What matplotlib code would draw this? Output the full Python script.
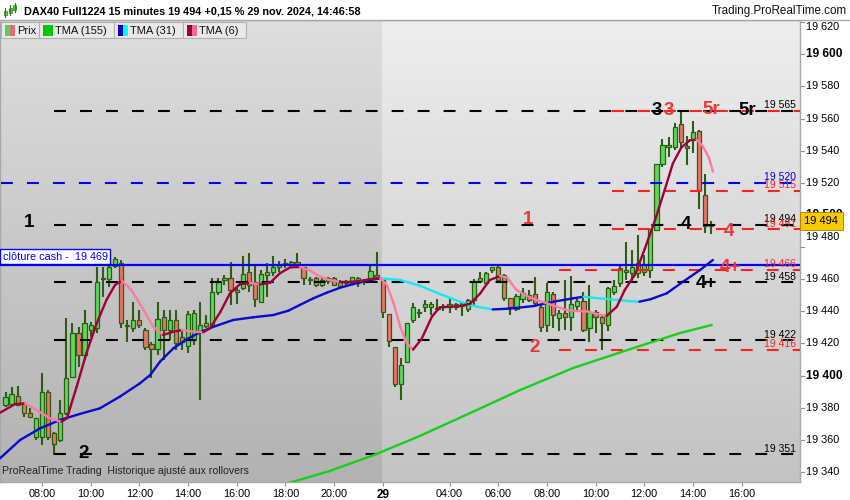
import numpy as np
import matplotlib.pyplot as plt
from matplotlib.patches import Rectangle
from matplotlib.colors import LinearSegmentedColormap
from matplotlib.transforms import blended_transform_factory

plt.rcParams['font.family'] = ['Liberation Sans', 'DejaVu Sans']
plt.rcParams['lines.scale_dashes'] = False

# bar index: 0 = 28 nov 08:00, one step = 15 min (night gap squeezed out like PRT does)
first_bar = -6
opens = [19381.6, 19382.3, 19387.2, 19382.3, 19376.9, 19362.0, 19362.0, 19389.5, 19364.4, 19359.8,
         19376.5, 19399.3, 19426.3, 19412.8, 19428.4, 19429.4, 19460.0, 19460.0, 19468.0, 19470.3,
         19430.6, 19429.4, 19434.6, 19428.4, 19419.4, 19416.3, 19436.2, 19428.4, 19434.6, 19424.2,
         19418.4, 19422.1, 19427.3, 19430.8, 19430.8, 19452.2, 19459.5, 19460.5, 19452.0, 19454.3,
         19464.3, 19458.4, 19446.0, 19462.6, 19464.3, 19467.8, 19469.5, 19469.3, 19470.9, 19467.4,
         19459.7, 19460.5, 19456.4, 19458.8, 19460.5, 19458.4, 19457.6, 19457.4, 19460.5, 19458.4,
         19461.0, 19462.6, 19459.5, 19438.1, 19418.0, 19394.5, 19408.2, 19434.6, 19439.0, 19442.9,
         19442.9, 19441.5, 19442.6, 19442.5, 19442.6, 19443.3, 19441.2, 19447.0, 19459.0, 19457.4,
         19465.7, 19467.8, 19462.6, 19448.1, 19441.2, 19447.4, 19450.1, 19450.8, 19442.9, 19431.5,
         19450.8, 19435.6, 19439.1, 19436.2, 19443.3, 19446.6, 19429.4, 19439.8, 19436.2, 19431.5,
         19452.2, 19457.4, 19464.3, 19464.0, 19464.0, 19464.7, 19465.7, 19490.6, 19531.7, 19542.5,
         19542.1, 19556.6, 19543.0, 19546.7, 19552.3, 19512.4, 19493.1]
highs = [19390.0, 19393.0, 19393.5, 19383.0, 19379.6, 19373.3, 19401.4, 19391.0, 19365.0, 19384.8,
         19435.6, 19432.5, 19430.4, 19440.8, 19433.5, 19467.8, 19467.8, 19478.2, 19474.0, 19472.0,
         19434.6, 19446.0, 19440.8, 19429.4, 19421.1, 19446.0, 19440.8, 19440.8, 19440.8, 19428.4,
         19440.4, 19440.8, 19446.0, 19437.7, 19461.0, 19460.5, 19462.6, 19470.9, 19454.3, 19474.4,
         19476.1, 19469.5, 19465.7, 19469.9, 19474.4, 19471.5, 19472.4, 19471.5, 19476.1, 19467.8,
         19461.6, 19461.1, 19460.5, 19461.6, 19461.1, 19459.5, 19459.5, 19461.6, 19461.1, 19459.9,
         19469.0, 19477.1, 19459.5, 19438.1, 19418.0, 19410.7, 19432.5, 19445.0, 19441.2, 19447.0,
         19446.0, 19447.4, 19444.5, 19447.4, 19445.4, 19445.4, 19448.0, 19459.9, 19464.3, 19464.7,
         19467.8, 19469.5, 19463.2, 19448.1, 19450.8, 19454.3, 19453.3, 19461.6, 19443.9, 19457.8,
         19452.2, 19440.8, 19459.5, 19462.0, 19447.4, 19452.2, 19456.4, 19440.8, 19437.7, 19455.3,
         19459.5, 19469.5, 19483.4, 19478.2, 19487.5, 19475.0, 19491.0, 19531.7, 19547.1, 19548.7,
         19557.0, 19565.0, 19549.0, 19558.7, 19552.9, 19525.5, 19496.2]
lows = [19380.6, 19381.6, 19381.0, 19374.4, 19373.3, 19359.8, 19356.7, 19359.8, 19350.5, 19358.8,
        19375.4, 19398.3, 19405.5, 19409.7, 19424.2, 19426.3, 19449.1, 19455.3, 19467.0, 19429.4,
        19421.0, 19427.3, 19429.4, 19415.9, 19398.3, 19412.8, 19409.7, 19422.1, 19415.9, 19415.9,
        19413.8, 19419.0, 19384.8, 19429.4, 19429.4, 19450.0, 19456.4, 19443.9, 19444.5, 19453.3,
        19452.2, 19442.9, 19445.0, 19449.1, 19462.0, 19464.7, 19466.8, 19467.8, 19466.8, 19456.4,
        19456.4, 19455.3, 19455.3, 19457.0, 19455.7, 19455.3, 19455.3, 19456.4, 19455.3, 19456.4,
        19459.0, 19460.5, 19435.6, 19417.6, 19392.7, 19384.8, 19408.2, 19433.0, 19435.6, 19439.8,
        19437.7, 19440.8, 19440.4, 19439.1, 19440.8, 19437.0, 19439.8, 19443.9, 19458.4, 19457.4,
        19464.0, 19458.4, 19446.6, 19437.7, 19440.4, 19445.0, 19446.0, 19442.9, 19427.3, 19427.3,
        19429.4, 19428.0, 19428.4, 19428.0, 19440.8, 19427.3, 19421.1, 19426.3, 19415.9, 19428.0,
        19450.1, 19455.3, 19459.5, 19459.0, 19460.5, 19462.0, 19460.5, 19490.2, 19530.0, 19536.3,
        19540.4, 19541.5, 19531.0, 19538.4, 19503.5, 19488.5, 19488.1]
closes = [19386.4, 19388.5, 19381.6, 19376.5, 19374.4, 19373.3, 19390.0, 19362.0, 19357.3, 19376.9,
          19398.3, 19426.3, 19412.8, 19432.5, 19431.5, 19458.4, 19460.8, 19467.8, 19472.5, 19432.5,
          19431.5, 19434.6, 19431.5, 19418.0, 19416.3, 19435.0, 19428.4, 19434.6, 19420.0, 19421.1,
          19438.3, 19439.1, 19431.3, 19432.5, 19452.2, 19458.4, 19461.0, 19453.3, 19453.0, 19463.2,
          19456.4, 19447.4, 19463.2, 19464.3, 19467.4, 19468.8, 19470.2, 19470.5, 19468.2, 19460.5,
          19460.1, 19456.4, 19459.5, 19460.5, 19456.4, 19455.7, 19458.2, 19461.1, 19457.4, 19459.3,
          19465.0, 19461.2, 19439.4, 19421.5, 19394.5, 19406.6, 19432.5, 19442.5, 19439.3, 19444.5,
          19444.3, 19442.0, 19443.3, 19444.5, 19444.5, 19445.0, 19447.0, 19459.0, 19460.5, 19463.6,
          19467.4, 19459.5, 19448.1, 19442.9, 19449.5, 19451.6, 19447.0, 19445.4, 19430.0, 19452.2,
          19437.7, 19439.1, 19436.2, 19444.5, 19446.4, 19428.4, 19439.8, 19436.2, 19432.9, 19454.3,
          19455.8, 19466.8, 19465.7, 19467.8, 19470.3, 19469.5, 19491.0, 19531.7, 19543.5, 19543.5,
          19554.6, 19545.6, 19542.0, 19551.9, 19515.5, 19493.1, 19494.0]

# moving averages (bar index, price)
tma6_x = [-6.9, -4.4, -2.8, -0.9, 1.3, 3.2, 4.1, 5.7, 7.3, 9.0, 10.6, 12.0, 13.1, 14.7, 16.7, 18.3,
          19.9, 21.6, 23.0, 24.9, 26.5, 27.6, 29.3, 30.9, 32.5, 34.2, 35.8, 37.5, 39.1, 40.8, 42.4,
          44.1, 45.7, 47.3, 49.0, 50.6, 52.3, 53.9, 55.6, 56.7, 57.8, 58.9, 60.0, 61.0, 62.4, 64.1,
          65.4, 67.1, 68.7, 70.4, 72.0, 73.6, 75.3, 76.4, 78.0, 79.7, 81.3, 83.0, 84.6, 86.3, 87.9,
          89.5, 91.2, 92.8, 94.5, 95.8, 97.5, 99.1, 100.8, 102.4, 103.7, 105.1, 106.5, 107.6, 108.6,
          109.6, 110.3]
tma6_y = [19376.9, 19382.3, 19382.7, 19378.6, 19373.4, 19371.3, 19373.4, 19393.1, 19413.9, 19432.6,
          19447.1, 19456.4, 19459.1, 19453.3, 19440.8, 19430.4, 19425.3, 19427.3, 19428.4, 19427.3,
          19427.0, 19429.4, 19439.5, 19451.2, 19456.8, 19457.8, 19456.8, 19457.8, 19463.7, 19467.4,
          19467.6, 19465.3, 19461.6, 19459.5, 19458.3, 19458.3, 19458.9, 19460.0, 19460.6, 19456.4,
          19445.0, 19430.4, 19420.1, 19416.2, 19422.8, 19436.7, 19442.5, 19442.9, 19443.3, 19444.8,
          19451.0, 19459.5, 19462.0, 19461.2, 19453.3, 19449.6, 19447.1, 19445.0, 19442.9, 19440.8,
          19440.2, 19440.0, 19438.4, 19437.1, 19442.9, 19453.3, 19463.0, 19479.0, 19497.0, 19516.0,
          19532.0, 19542.0, 19546.5, 19547.0, 19543.0, 19536.0, 19527.0]
tma31_x = [-6.9, -3.6, -0.3, 3.0, 6.2, 9.5, 12.8, 16.1, 17.8, 19.4, 21.6, 23.8, 26.0, 28.2, 31.4,
           34.7, 38.0, 40.5, 42.4, 44.6, 46.8, 49.0, 51.2, 53.4, 55.6, 58.9, 62.1, 65.4, 68.7, 71.5,
           74.1, 76.9, 80.8, 84.1, 87.3, 89.0, 91.7, 94.5, 96.7, 98.2, 100.0, 102.7, 105.4, 108.2, 110.3]
tma31_y = [19348.5, 19359.9, 19367.2, 19372.4, 19376.1, 19379.6, 19386.9, 19395.2, 19400.4, 19408.7,
           19417.0, 19422.6, 19427.0, 19430.4, 19434.6, 19436.3, 19437.7, 19440.4, 19444.0, 19448.1,
           19451.6, 19454.7, 19457.0, 19459.1, 19460.6, 19459.5, 19456.0, 19450.8, 19446.0, 19442.9,
           19441.2, 19441.7, 19443.3, 19446.0, 19448.1, 19449.1, 19448.1, 19447.1, 19446.3, 19446.0,
           19447.5, 19451.2, 19458.5, 19465.8, 19472.0]
tma155_x = [38.0, 41.1, 47.3, 54.6, 62.1, 70.4, 78.6, 87.3, 96.7, 104.9, 110.1]
tma155_y = [19331.0, 19333.7, 19340.6, 19350.6, 19362.4, 19376.7, 19391.0, 19404.7, 19416.5, 19426.5, 19431.5]

black_levels = [19565, 19494, 19458, 19422, 19351]
red_levels = [19565, 19515, 19491, 19466, 19416]
red_starts = [93.7, 93.7, 93.7, 85.0, 85.0]
blue_level = 19520
cash_close = 19469
last_price = 19494

level_labels = [(19565, 'black'), (19520, '#0000ff'), (19515, '#ff2020'), (19494, 'black'),
                (19491, '#ff2020'), (19466, '#ff2020'), (19458, 'black'), (19422, 'black'),
                (19416, '#ff2020'), (19351, 'black')]

marks = [(-2.1, 19495.6, '1', 'black'), (6.9, 19351.5, '2', 'black'),
         (79.9, 19496.9, '1', '#e83838'), (81.0, 19417.8, '2', '#e83838'),
         (101.1, 19564.8, '3', 'black'), (103.1, 19564.8, '3', '#e83838'),
         (110.1, 19565.4, '5r', '#e83838'), (116.0, 19565.0, '5r', 'black'),
         (105.9, 19493.8, '4', 'black'), (112.9, 19490.0, '4', '#e83838'),
         (113.2, 19467.3, '4+', '#e83838'), (109.2, 19457.3, '4+', 'black')]

xtick_pos = [0, 8, 16, 24, 32, 40, 48, 56, 67, 75, 83, 91, 99, 107, 115]
xtick_lbl = ['08:00', '10:00', '12:00', '14:00', '16:00', '18:00', '20:00', '29',
             '04:00', '06:00', '08:00', '10:00', '12:00', '14:00', '16:00']
ytick_vals = list(range(19340, 19621, 20))

W, H = 850, 500
xmin, xmax = -6.905, 124.61
ymin, ymax = 19333.75, 19621.4
day_split = 55.9

GREEN, RED, WICK = '#58dc58', '#ec7468', '#2d5c14'

fig = plt.figure(figsize=(8.5, 5), dpi=100)
fig.patch.set_facecolor('white')
ax = fig.add_axes([0, 18 / H, 800 / W, 462 / H])


def fbox(x, y, w, h, **kw):
    fig.add_artist(Rectangle((x / W, 1 - (y + h) / H), w / W, h / H, transform=fig.transFigure, **kw))


# background gradients (day 28 darker than day 29)
grad = np.linspace(0, 1, 256).reshape(-1, 1)
cm_l = LinearSegmentedColormap.from_list('l', ['#b2b2b2', '#dedede'])
cm_r = LinearSegmentedColormap.from_list('r', ['#c3c3c3', '#eeeeee'])
ax.imshow(grad, extent=[xmin, day_split, ymin, ymax], origin='lower', cmap=cm_l, aspect='auto', zorder=0)
ax.imshow(grad, extent=[day_split, xmax, ymin, ymax], origin='lower', cmap=cm_r, aspect='auto', zorder=0)

# candles
bars = np.arange(first_bar, first_bar + len(opens))
o, h, l, c = map(np.array, (opens, highs, lows, closes))
up = c >= o
ax.vlines(bars, l, h, color=WICK, lw=1.5, zorder=3)
ax.bar(bars, np.maximum(np.abs(c - o), 0.5), bottom=np.minimum(o, c), width=0.7,
       color=np.where(up, GREEN, RED), edgecolor=WICK, linewidth=0.9, zorder=4)

# horizontal levels
dash = (0, (8.6, 10.1))
for v in black_levels:
    ax.plot([2.0, xmax], [v, v], color='black', lw=1.5, linestyle=dash, zorder=5)
for v, s in zip(red_levels, red_starts):
    ax.plot([s, xmax], [v, v], color='#ff2020', lw=1.5, linestyle=dash, zorder=5)
ax.plot([xmin + 0.15, xmax], [blue_level] * 2, color='#0000ff', lw=1.5, linestyle=dash, zorder=5)
ax.plot([xmin, xmax], [cash_close] * 2, color='#0000ff', lw=1.6, zorder=5)


def two_tone(xs, ys, c_up, c_dn, lw):
    for i in range(len(xs) - 1):
        col = c_up if ys[i + 1] >= ys[i] else c_dn
        ax.plot(xs[i:i + 2], ys[i:i + 2], color=col, lw=lw, solid_capstyle='round', zorder=6)


two_tone(tma155_x, tma155_y, '#18d018', '#18d018', 1.7)
two_tone(tma31_x, tma31_y, '#0a0ad2', '#18e8f0', 1.7)
two_tone(tma6_x, tma6_y, '#a0003a', '#ff7aa0', 1.7)

for v, col in level_labels:
    ax.annotate(f'{v // 1000} {v % 1000:03d}', xy=(xmax, v), xytext=(-3, 0.5), textcoords='offset points',
                ha='right', va='bottom', fontsize=7.5, color=col, zorder=7)

for x, y, t, col in marks:
    ax.text(x, y, t, ha='center', va='center', fontsize=13.5, fontweight='bold', color=col, zorder=8)

ax.annotate('clôture cash -  19 469', xy=(xmin, cash_close), xytext=(2, 2.2), textcoords='offset points',
            ha='left', va='bottom', fontsize=7.8, color='#0000ff', zorder=8,
            bbox=dict(boxstyle='square,pad=0.22', fc='white', ec='#0000ff', lw=1))

ax.set_xlim(xmin, xmax)
ax.set_ylim(ymin, ymax)
ax.set_yticks([])
ax.set_xticks(xtick_pos, xtick_lbl)
ax.tick_params(axis='x', labelsize=7.8, length=3, color='#909090', pad=2)
for lab in ax.get_xticklabels():
    if lab.get_text() == '29':
        lab.set_fontweight('bold')
        lab.set_fontsize(8.5)
for sp in ax.spines.values():
    sp.set_color('#a8a8a8')
    sp.set_linewidth(1)

# right price scale
tr = blended_transform_factory(ax.transAxes, ax.transData)
for v in ytick_vals:
    bold = v % 100 == 0
    dy = 0
    if v == 19480:
        dy = 7
    if v == 19620:
        dy = -3.5
    ax.plot([1.0, 1.005], [v, v], transform=tr, color='#909090', lw=0.8, clip_on=False)
    ax.annotate(f'{v // 1000} {v % 1000:03d}', xy=(1, v), xycoords=tr, xytext=(4, dy),
                textcoords='offset points', ha='left', va='center', annotation_clip=False,
                fontsize=8.6 if bold else 7.8, fontweight='bold' if bold else 'normal')
ax.annotate(f'{last_price // 1000} {last_price % 1000:03d}', xy=(1, last_price), xycoords=tr,
            xytext=(3.2, 2.5), textcoords='offset points', ha='left', va='center', fontsize=8,
            annotation_clip=False, zorder=10,
            bbox=dict(boxstyle='square,pad=0.38', fc='#f8c800', ec='#a08000', lw=0.6))

ax.text(0.003, 0.012, 'ProRealTime Trading  Historique ajusté aux rollovers', transform=ax.transAxes,
        fontsize=7.6, color='#222222', ha='left', va='bottom', zorder=8)

# title bar
fbox(0, 0, 850, 20, fc='white', ec='none')
fig.add_artist(plt.Line2D([0, 1], [1 - 20 / H] * 2, transform=fig.transFigure, color='#a8a8a8', lw=1))
for i, (yt, yb, bt, bb) in enumerate([(8, 17, 11, 15), (5, 15, 8, 13), (3, 12, 5, 10)]):
    x = 5 + i * 5
    fig.add_artist(plt.Line2D([x / W] * 2, [1 - yt / H, 1 - yb / H], transform=fig.transFigure,
                              color='#2d7a14', lw=0.8))
    fbox(x - 1.5, bt, 3, bb - bt, fc='#58dc58', ec='#2d7a14', lw=0.5)
fig.text(24 / W, 1 - 11 / H, 'DAX40 Full1224 15 minutes 19 494 +0,15 % 29 nov. 2024, 14:46:58',
         fontsize=7.8, fontweight='bold', va='center', ha='left')
fig.text(847 / W, 1 - 11 / H, 'Trading.ProRealTime.com', fontsize=8.4, va='center', ha='right',
         color='#111111')

# indicator legend row
boxes = [(1, 39, 'Prix', ('#58d058', '#e07070')), (39, 75, 'TMA (155)', ('#00c800', '#00c800')),
         (114, 69, 'TMA (31)', ('#0000cc', '#00ffff')), (183, 63, 'TMA (6)', ('#990033', '#ff6699'))]
for x, w, name, (c1, c2) in boxes:
    fbox(x, 22, w, 16, fc='#e9e9e9', ec='#b0b0b0', lw=0.8)
    fbox(x + 4, 25.5, 5, 10, fc=c1, ec='none')
    fbox(x + 9, 25.5, 5, 10, fc=c2, ec='none')
    fig.text((x + 16) / W, 1 - 30.5 / H, name, fontsize=8, va='center', ha='left', color='#111111')

fig.savefig('out.png', dpi=100)
